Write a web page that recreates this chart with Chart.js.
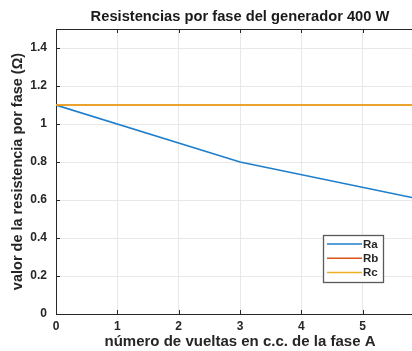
<!DOCTYPE html>
<html>
<head>
<meta charset="utf-8">
<script src="https://cdn.jsdelivr.net/npm/chart.js@4/dist/chart.umd.min.js"></script>
<style>
  html, body { margin: 0; padding: 0; background: #fff; overflow: hidden; }
  #wrap { width: 440px; height: 351px; }
</style>
</head>
<body>
<div id="wrap"><canvas id="c" width="440" height="351"></canvas></div>
<script>
// Turns on phase A short circuit and the per-phase resistances
const vueltas = [0, 3, 6];
const Ra = [1.1, 0.8, 0.6];
const Rb = [1.1, 1.1, 1.1];
const Rc = [1.1, 1.1, 1.1];
const seriesNames = ['Ra', 'Rb', 'Rc'];
const seriesColors = ['#1f7fcc', '#D95319', '#EDB120'];
const xTicks = [0, 1, 2, 3, 4, 5, 6];
const yTicks = [0, 0.2, 0.4, 0.6, 0.8, 1, 1.2, 1.4];
const chartTitle = 'Resistencias por fase del generador 400 W';

const FONT = '"Liberation Sans", Arial, sans-serif';
const INK = '#262626';

function pts(ys) { return vueltas.map((x, i) => ({ x: x, y: ys[i] })); }

// Title over the axes, axes box, inward ticks and the legend inside the plot
const boxPlugin = {
  id: 'matlabBox',
  afterDraw(chart) {
    const { ctx, chartArea: a, scales } = chart;
    ctx.save();
    ctx.fillStyle = '#1a1a1a';
    ctx.font = 'bold 14.7px ' + FONT;
    ctx.textAlign = 'center';
    ctx.textBaseline = 'middle';
    ctx.fillText(chartTitle, (a.left + a.right) / 2, 16.5);

    ctx.strokeStyle = INK;
    ctx.lineWidth = 1;
    ctx.beginPath();
    ctx.moveTo(a.left, a.top + 0.5);
    ctx.lineTo(a.right, a.top + 0.5);
    ctx.stroke();
    ctx.beginPath();
    yTicks.forEach(v => {
      const y = Math.round(scales.y.getPixelForValue(v)) + 0.5;
      ctx.moveTo(a.left, y); ctx.lineTo(a.left + 4, y);
    });
    xTicks.forEach(v => {
      const x = Math.round(scales.x.getPixelForValue(v)) + 0.5;
      ctx.moveTo(x, a.bottom); ctx.lineTo(x, a.bottom - 4);
      ctx.moveTo(x, a.top); ctx.lineTo(x, a.top + 4);
    });
    ctx.stroke();

    // legend
    const lx = 323.5, ly = 235.5, lw = 60, lh = 47;
    ctx.fillStyle = '#fff';
    ctx.fillRect(lx, ly, lw, lh);
    ctx.strokeStyle = '#5a5a5a';
    ctx.lineWidth = 1.3;
    ctx.strokeRect(lx, ly, lw, lh);
    ctx.font = 'bold 11.5px ' + FONT;
    ctx.textBaseline = 'middle';
    ctx.textAlign = 'left';
    chart.data.datasets.forEach((ds, i) => {
      const y = 244 + i * 14.2;
      ctx.strokeStyle = ds.borderColor;
      ctx.lineWidth = 1.5;
      ctx.beginPath();
      ctx.moveTo(327, y); ctx.lineTo(362, y);
      ctx.stroke();
      ctx.fillStyle = INK;
      ctx.fillText(ds.label, 363, y + 0.5);
    });
    ctx.restore();
  }
};

new Chart(document.getElementById('c'), {
  type: 'scatter',
  data: {
    datasets: [Ra, Rb, Rc].map((ys, i) => ({
      label: seriesNames[i],
      data: pts(ys),
      showLine: true,
      borderColor: seriesColors[i],
      backgroundColor: seriesColors[i],
      borderWidth: 1.7,
      pointRadius: 0,
      order: 2 - i
    }))
  },
  options: {
    responsive: false,
    animation: false,
    events: [],
    layout: { padding: { left: 0, right: 16, top: 29, bottom: 0 } },
    plugins: {
      legend: { display: false },
      tooltip: { enabled: false },
      title: { display: false }
    },
    scales: {
      x: {
        type: 'linear',
        min: 0, max: 6,
        afterFit(s) { s.height = 37; },
        afterBuildTicks(s) { s.ticks = xTicks.map(v => ({ value: v })); },
        ticks: { color: INK, font: { family: FONT, size: 12, weight: 'bold' }, padding: 5, maxRotation: 0 },
        grid: { color: '#e8e8e8', drawTicks: false },
        border: { display: true, color: INK, width: 1 },
        title: {
          display: true,
          text: 'número de vueltas en c.c. de la fase A',
          color: INK,
          font: { family: FONT, size: 15, weight: 'bold' },
          padding: { top: 0, bottom: 0 }
        }
      },
      y: {
        min: 0, max: 1.5,
        afterFit(s) { s.width = 56; },
        afterBuildTicks(s) { s.ticks = yTicks.map(v => ({ value: v })); },
        ticks: {
          color: INK,
          font: { family: FONT, size: 12, weight: 'bold' },
          padding: 9,
          callback: v => String(Number(v.toFixed(1)))
        },
        grid: { color: '#e8e8e8', drawTicks: false },
        border: { display: true, color: INK, width: 1 },
        title: {
          display: true,
          text: 'valor de la resistencia por fase (Ω)',
          color: INK,
          font: { family: FONT, size: 14.5, weight: 'bold' },
          padding: { top: 9.5, bottom: 0 }
        }
      }
    }
  },
  plugins: [boxPlugin]
});
</script>
</body>
</html>
